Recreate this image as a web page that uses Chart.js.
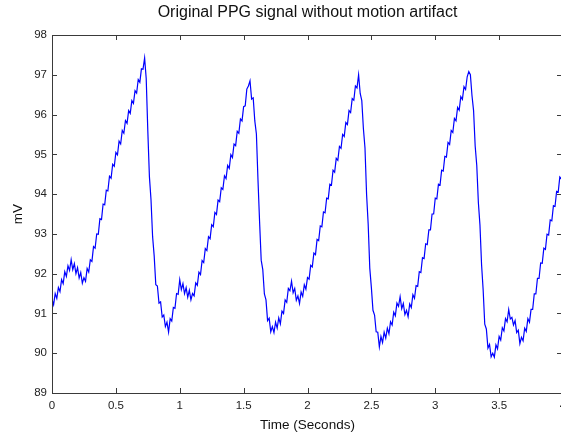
<!DOCTYPE html>
<html>
<head>
<meta charset="utf-8">
<title>Original PPG signal without motion artifact</title>
<script src="https://cdn.jsdelivr.net/npm/chart.js@4.4.1/dist/chart.umd.min.js"></script>
<style>
  html, body { margin: 0; padding: 0; background: #fff; overflow: hidden; }
  #ppg-chart { display: block; }
</style>
</head>
<body>
<canvas id="ppg-chart" width="563" height="435"></canvas>
<script>
const chartTitle = "Original PPG signal without motion artifact";
const xTitle = "Time (Seconds)";
const yTitle = "mV";

// one sample every 12.5 ms, starting at t = 0
const sampleStep = 0.0125;

// PPG amplitude (mV)
const ppgMv = [
  91.35, 91.22, 91.50, 91.38, 91.65, 91.55, 91.85, 91.75, 92.05, 91.93,
  92.20, 92.08, 92.35, 92.10, 92.25, 92.00, 92.15, 91.89, 92.03, 91.76,
  91.90, 91.81, 92.13, 92.04, 92.35, 92.31, 92.68, 92.64, 93.00, 92.99,
  93.38, 93.36, 93.75, 93.73, 94.10, 94.08, 94.45, 94.40, 94.75, 94.70,
  95.05, 94.99, 95.33, 95.26, 95.60, 95.53, 95.85, 95.78, 96.10, 96.03,
  96.35, 96.28, 96.60, 96.54, 96.88, 96.81, 97.15, 97.14, 97.42, 96.90,
  95.59, 94.44, 93.86, 92.93, 92.44, 91.72, 91.69, 91.26, 91.29, 90.91,
  90.96, 90.67, 90.78, 90.53, 90.87, 90.81, 91.15, 91.13, 91.50, 91.48,
  91.85, 91.60, 91.75, 91.50, 91.65, 91.41, 91.58, 91.34, 91.50, 91.44,
  91.77, 91.71, 92.04, 91.98, 92.33, 92.28, 92.63, 92.58, 92.93, 92.88,
  93.23, 93.18, 93.54, 93.49, 93.85, 93.81, 94.16, 94.12, 94.46, 94.39,
  94.72, 94.65, 94.99, 94.92, 95.26, 95.22, 95.58, 95.53, 95.89, 95.84,
  96.20, 96.22, 96.64, 96.72, 96.85, 96.39, 96.42, 95.84, 95.51, 94.35,
  93.30, 92.34, 92.10, 91.49, 91.34, 90.82, 90.88, 90.54, 90.67, 90.52,
  90.78, 90.63, 90.89, 90.74, 91.06, 91.00, 91.34, 91.28, 91.63, 91.57,
  91.81, 91.52, 91.63, 91.33, 91.44, 91.25, 91.54, 91.43, 91.72, 91.61,
  91.90, 91.86, 92.21, 92.17, 92.52, 92.48, 92.86, 92.83, 93.20, 93.18,
  93.55, 93.53, 93.90, 93.88, 94.25, 94.23, 94.60, 94.55, 94.90, 94.85,
  95.20, 95.15, 95.50, 95.45, 95.80, 95.75, 96.10, 96.05, 96.40, 96.36,
  96.72, 96.67, 97.00, 96.53, 96.35, 95.65, 95.16, 93.99, 93.24, 92.14,
  91.65, 91.08, 90.96, 90.54, 90.53, 90.16, 90.42, 90.27, 90.53, 90.38,
  90.63, 90.49, 90.79, 90.71, 91.03, 90.94, 91.26, 91.18, 91.42, 91.12,
  91.25, 90.97, 91.08, 90.92, 91.24, 91.15, 91.47, 91.38, 91.70, 91.68,
  92.05, 92.03, 92.40, 92.38, 92.75, 92.73, 93.10, 93.10, 93.50, 93.50,
  93.90, 93.88, 94.25, 94.23, 94.60, 94.58, 94.95, 94.93, 95.30, 95.25,
  95.60, 95.55, 95.90, 95.84, 96.18, 96.11, 96.45, 96.38, 96.70, 96.63,
  96.95, 97.08, 97.00, 96.48, 96.10, 95.21, 94.72, 93.79, 93.22, 92.23,
  91.59, 90.73, 90.61, 90.13, 90.22, 89.91, 90.00, 89.90, 90.21, 90.11,
  90.42, 90.33, 90.64, 90.56, 90.87, 90.79, 91.10, 90.86, 90.90, 90.71,
  90.82, 90.52, 90.58, 90.24, 90.40, 90.31, 90.63, 90.55, 90.87, 90.78,
  91.10, 91.10, 91.49, 91.49, 91.88, 91.88, 92.27, 92.26, 92.64, 92.61,
  92.99, 92.97, 93.35, 93.33, 93.71, 93.69, 94.07, 94.05, 94.43, 94.38,
  94.70,
];

const timeTicks = [0, 0.5, 1, 1.5, 2, 2.5, 3, 3.5, 4];
const mvTicks = [89, 90, 91, 92, 93, 94, 95, 96, 97, 98];

const fontFamily = '"Liberation Sans", Arial, Helvetica, sans-serif';

// matlab style box: frame on all sides, ticks pointing inwards, title over the axes
const matlabBox = {
  id: "matlabBox",
  afterDraw(chart) {
    const { ctx, chartArea: a, scales } = chart;
    ctx.save();
    ctx.strokeStyle = "#3a3a3a";
    ctx.lineWidth = 1;
    ctx.strokeRect(Math.round(a.left) + 0.5, Math.round(a.top) + 0.5,
      Math.round(a.right - a.left), Math.round(a.bottom - a.top));
    ctx.beginPath();
    timeTicks.forEach((v) => {
      const px = Math.round(scales.x.getPixelForValue(v)) + 0.5;
      ctx.moveTo(px, a.bottom); ctx.lineTo(px, a.bottom - 5);
      ctx.moveTo(px, a.top); ctx.lineTo(px, a.top + 5);
    });
    mvTicks.forEach((v) => {
      const py = Math.round(scales.y.getPixelForValue(v)) + 0.5;
      ctx.moveTo(a.left, py); ctx.lineTo(a.left + 5, py);
      ctx.moveTo(a.right, py); ctx.lineTo(a.right - 6, py);
    });
    ctx.stroke();

    ctx.fillStyle = "#111";
    ctx.font = "16px " + fontFamily;
    ctx.textAlign = "center";
    ctx.textBaseline = "middle";
    ctx.fillText(chartTitle, (a.left + a.right) / 2, 13);
    ctx.restore();
  },
};

const createPpgChart = () => {
  const ctx = document.getElementById("ppg-chart").getContext("2d");

  new Chart(ctx, {
    type: "line",
    data: {
      datasets: [
        {
          label: "PPG",
          data: ppgMv.map((v, i) => ({ x: i * sampleStep, y: v })),
          borderColor: "#0000ff",
          borderWidth: 1.2,
          pointRadius: 0,
          tension: 0,
        },
      ],
    },
    options: {
      responsive: false,
      animation: false,
      layout: { padding: { top: 35, left: 0, right: 0, bottom: 0 } },
      plugins: {
        legend: { display: false },
        tooltip: { enabled: false },
      },
      scales: {
        x: {
          type: "linear",
          min: 0,
          max: 4,
          afterBuildTicks: (s) => { s.ticks = timeTicks.map((v) => ({ value: v })); },
          afterFit: (s) => {
            s.height = 42;
            // the plot runs off the right edge, like the original
            s.paddingRight = 0;
          },
          grid: { display: false, drawTicks: false },
          border: { display: false },
          ticks: {
            color: "#222",
            padding: 6,
            maxRotation: 0,
            autoSkip: false,
            font: { family: fontFamily, size: 11.5 },
            callback: (value) => String(value),
          },
          title: {
            display: true,
            text: xTitle,
            color: "#111",
            font: { family: fontFamily, size: 13.5 },
            padding: { top: 0, bottom: 2 },
          },
        },
        y: {
          min: 89,
          max: 98,
          afterBuildTicks: (s) => { s.ticks = mvTicks.map((v) => ({ value: v })); },
          afterFit: (s) => { s.width = 52; },
          grid: { display: false, drawTicks: false },
          border: { display: false },
          ticks: {
            color: "#222",
            padding: 5,
            font: { family: fontFamily, size: 11.5 },
            callback: (value) => String(value),
          },
          title: {
            display: true,
            text: yTitle,
            color: "#111",
            font: { family: fontFamily, size: 13.5 },
            padding: { top: 10, bottom: 0 },
          },
        },
      },
    },
    plugins: [matlabBox],
  });
};

createPpgChart();
</script>
</body>
</html>
